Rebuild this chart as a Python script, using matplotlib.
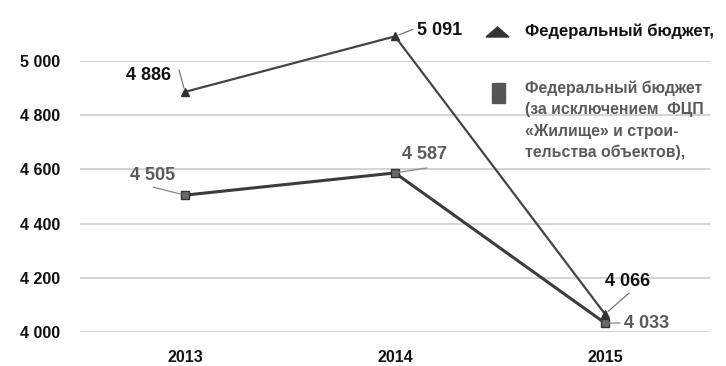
import numpy as np
import matplotlib
matplotlib.use("Agg")
import matplotlib.pyplot as plt
from matplotlib.patches import Rectangle, Polygon

years = ["2013", "2014", "2015"]
federal = [4886, 5091, 4066]
federal_excl = [4505, 4587, 4033]
yticks = [4000, 4200, 4400, 4600, 4800, 5000]
legend_1 = "Федеральный бюджет,"
legend_2 = ["Федеральный бюджет", "(за исключением  ФЦП",
            "«Жилище» и строи-", "тельства объектов),"]

plt.rcParams["font.family"] = ["Liberation Sans", "DejaVu Sans"]

W, H = 726, 366
fig = plt.figure(figsize=(W / 100, H / 100), dpi=100)
ax = fig.add_axes([80 / W, 1 - 332 / H, 630 / W, 271 / H])

x = np.arange(len(years))
ax.set_xlim(-0.5, 2.5)
ax.set_ylim(4000, 5000)

for v in yticks:
    ax.axhline(v, color="#d4d4d4", lw=1.5, zorder=0)

ax.plot(x, federal, color="#454545", lw=1.6, marker="^", ms=6,
        mfc="#333333", mec="#333333", clip_on=False, zorder=3)
ax.plot(x, federal_excl, color="#3c3c3c", lw=2.2, marker="s", ms=5.5,
        mfc="#6a6a6a", mec="#333333", mew=1.0, clip_on=False, zorder=3)

for s in ax.spines.values():
    s.set_visible(False)
ax.set_xticks(x)
ax.set_xticklabels(years)
ax.set_yticks(yticks)
ax.set_yticklabels([f"{v:,}".replace(",", " ") for v in yticks])
ax.tick_params(length=0)
ax.tick_params(axis="y", pad=14)
ax.tick_params(axis="x", pad=13)
for lab in ax.get_xticklabels() + ax.get_yticklabels():
    lab.set_fontweight("bold")
    lab.set_fontsize(11.5)
    lab.set_color("#111111")


def fmt(v):
    return f"{v:,}".replace(",", " ")


# text offset (px), leader start offset (px)
lab_fed = [((-36, 16), (-6, 22)), ((45, 6), (18, 7)), ((23, 33), (24, 21))]
lab_exc = [((-32, 20), (-32, 8)), ((30, 18), (32, 5)), ((42, 0), (15, 0))]

for i, v in enumerate(federal):
    (tx, ty), (lx, ly) = lab_fed[i]
    ax.annotate(fmt(v), (x[i], v), xytext=(tx, ty), textcoords="offset pixels",
                ha="center", va="center", fontsize=13, fontweight="bold",
                color="#111111", annotation_clip=False)
    ax.annotate("", (x[i], v), xytext=(lx, ly), textcoords="offset pixels",
                arrowprops=dict(arrowstyle="-", color="#777777", lw=0.9,
                                shrinkA=0, shrinkB=3), annotation_clip=False)

for i, v in enumerate(federal_excl):
    (tx, ty), (lx, ly) = lab_exc[i]
    ax.annotate(fmt(v), (x[i], v), xytext=(tx, ty), textcoords="offset pixels",
                ha="center", va="center", fontsize=13, fontweight="bold",
                color="#5a5a5a", annotation_clip=False)
    ax.annotate("", (x[i], v), xytext=(lx, ly), textcoords="offset pixels",
                arrowprops=dict(arrowstyle="-", color="#888888", lw=0.9,
                                shrinkA=0, shrinkB=3), annotation_clip=False)

# legend drawn by hand in pixel coordinates
def px(xp, yp):
    return xp / W, 1 - yp / H

fig.patches.append(Polygon([px(486, 37), px(509, 37), px(497.5, 27)],
                           closed=True, transform=fig.transFigure,
                           color="#333333", figure=fig))
fig.patches.append(Rectangle(px(492, 103), 13 / W, 20 / H,
                             transform=fig.transFigure, color="#555555",
                             figure=fig))
fig.text(*px(525, 31), legend_1, ha="left", va="center", fontsize=12,
         fontweight="bold", color="#111111")
for k, line in enumerate(legend_2):
    fig.text(*px(525, 88 + k * 21.5), line, ha="left", va="center",
             fontsize=11.4, fontweight="bold", color="#5a5a5a")

fig.savefig("out.png", dpi=100)
